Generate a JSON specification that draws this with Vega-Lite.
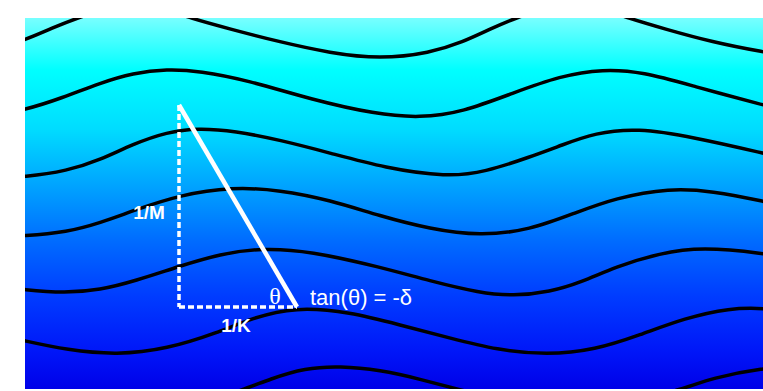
{
  "$schema": "https://vega.github.io/schema/vega-lite/v6.json",
  "width": 738,
  "height": 371,
  "autosize": {"type": "none"},
  "padding": {"left": 25, "top": 18, "right": 0, "bottom": 2},
  "background": "white",
  "config": {"view": {"stroke": null}},
  "datasets": {
    "bg": [{"x0": 25, "x1": 763, "y0": 18, "y1": 389}],
    "waves": [
      {"id": 1, "x": -10, "y": 52}, {"id": 1, "x": 25, "y": 40}, {"id": 1, "x": 52, "y": 28}, {"id": 1, "x": 80, "y": 17}, {"id": 1, "x": 108, "y": 8}, {"id": 1, "x": 140, "y": 5}, {"id": 1, "x": 165, "y": 9}, {"id": 1, "x": 190, "y": 18}, {"id": 1, "x": 230, "y": 29}, {"id": 1, "x": 280, "y": 42}, {"id": 1, "x": 330, "y": 53}, {"id": 1, "x": 380, "y": 59}, {"id": 1, "x": 430, "y": 53}, {"id": 1, "x": 463, "y": 42}, {"id": 1, "x": 490, "y": 29}, {"id": 1, "x": 518, "y": 17}, {"id": 1, "x": 546, "y": 8}, {"id": 1, "x": 578, "y": 5}, {"id": 1, "x": 603, "y": 9}, {"id": 1, "x": 628, "y": 18}, {"id": 1, "x": 665, "y": 29}, {"id": 1, "x": 712, "y": 42}, {"id": 1, "x": 763, "y": 52}, {"id": 1, "x": 800, "y": 58},
      {"id": 2, "x": -10, "y": 116}, {"id": 2, "x": 25, "y": 110}, {"id": 2, "x": 62, "y": 98}, {"id": 2, "x": 100, "y": 83}, {"id": 2, "x": 133, "y": 73}, {"id": 2, "x": 167, "y": 69}, {"id": 2, "x": 200, "y": 71}, {"id": 2, "x": 247, "y": 80}, {"id": 2, "x": 313, "y": 100}, {"id": 2, "x": 375, "y": 114}, {"id": 2, "x": 420, "y": 118}, {"id": 2, "x": 463, "y": 112}, {"id": 2, "x": 513, "y": 93}, {"id": 2, "x": 560, "y": 76}, {"id": 2, "x": 603, "y": 69}, {"id": 2, "x": 643, "y": 72}, {"id": 2, "x": 693, "y": 86}, {"id": 2, "x": 763, "y": 105}, {"id": 2, "x": 800, "y": 114},
      {"id": 3, "x": -10, "y": 178}, {"id": 3, "x": 25, "y": 177}, {"id": 3, "x": 67, "y": 171}, {"id": 3, "x": 100, "y": 160}, {"id": 3, "x": 133, "y": 144}, {"id": 3, "x": 167, "y": 132}, {"id": 3, "x": 198, "y": 128}, {"id": 3, "x": 235, "y": 131}, {"id": 3, "x": 280, "y": 140}, {"id": 3, "x": 330, "y": 153}, {"id": 3, "x": 385, "y": 168}, {"id": 3, "x": 447, "y": 177}, {"id": 3, "x": 485, "y": 172}, {"id": 3, "x": 530, "y": 157}, {"id": 3, "x": 562, "y": 145}, {"id": 3, "x": 595, "y": 133}, {"id": 3, "x": 637, "y": 128}, {"id": 3, "x": 693, "y": 137}, {"id": 3, "x": 763, "y": 153}, {"id": 3, "x": 800, "y": 162},
      {"id": 4, "x": -10, "y": 237}, {"id": 4, "x": 25, "y": 236}, {"id": 4, "x": 67, "y": 232}, {"id": 4, "x": 100, "y": 223}, {"id": 4, "x": 135, "y": 210}, {"id": 4, "x": 180, "y": 195}, {"id": 4, "x": 232, "y": 187}, {"id": 4, "x": 280, "y": 190}, {"id": 4, "x": 330, "y": 200}, {"id": 4, "x": 380, "y": 216}, {"id": 4, "x": 430, "y": 229}, {"id": 4, "x": 480, "y": 236}, {"id": 4, "x": 530, "y": 230}, {"id": 4, "x": 575, "y": 213}, {"id": 4, "x": 615, "y": 198}, {"id": 4, "x": 670, "y": 188}, {"id": 4, "x": 712, "y": 191}, {"id": 4, "x": 763, "y": 201}, {"id": 4, "x": 800, "y": 210},
      {"id": 5, "x": -10, "y": 285}, {"id": 5, "x": 25, "y": 290}, {"id": 5, "x": 65, "y": 293}, {"id": 5, "x": 100, "y": 290}, {"id": 5, "x": 135, "y": 281}, {"id": 5, "x": 180, "y": 266}, {"id": 5, "x": 220, "y": 254}, {"id": 5, "x": 262, "y": 248}, {"id": 5, "x": 310, "y": 251}, {"id": 5, "x": 380, "y": 267}, {"id": 5, "x": 430, "y": 281}, {"id": 5, "x": 480, "y": 293}, {"id": 5, "x": 513, "y": 296}, {"id": 5, "x": 550, "y": 292}, {"id": 5, "x": 582, "y": 282}, {"id": 5, "x": 615, "y": 267}, {"id": 5, "x": 660, "y": 253}, {"id": 5, "x": 702, "y": 247}, {"id": 5, "x": 763, "y": 253}, {"id": 5, "x": 800, "y": 260},
      {"id": 6, "x": -10, "y": 333}, {"id": 6, "x": 25, "y": 341}, {"id": 6, "x": 67, "y": 350}, {"id": 6, "x": 117, "y": 355}, {"id": 6, "x": 167, "y": 349}, {"id": 6, "x": 217, "y": 333}, {"id": 6, "x": 252, "y": 318}, {"id": 6, "x": 295, "y": 307}, {"id": 6, "x": 350, "y": 312}, {"id": 6, "x": 400, "y": 325}, {"id": 6, "x": 450, "y": 338}, {"id": 6, "x": 497, "y": 350}, {"id": 6, "x": 547, "y": 355}, {"id": 6, "x": 595, "y": 350}, {"id": 6, "x": 640, "y": 335}, {"id": 6, "x": 685, "y": 318}, {"id": 6, "x": 730, "y": 308}, {"id": 6, "x": 763, "y": 308}, {"id": 6, "x": 800, "y": 312},
      {"id": 7, "x": -10, "y": 385}, {"id": 7, "x": 25, "y": 394}, {"id": 7, "x": 80, "y": 405}, {"id": 7, "x": 140, "y": 410}, {"id": 7, "x": 200, "y": 403}, {"id": 7, "x": 243, "y": 390}, {"id": 7, "x": 270, "y": 379}, {"id": 7, "x": 305, "y": 368}, {"id": 7, "x": 340, "y": 366}, {"id": 7, "x": 380, "y": 370}, {"id": 7, "x": 420, "y": 379}, {"id": 7, "x": 460, "y": 390}, {"id": 7, "x": 510, "y": 402}, {"id": 7, "x": 570, "y": 410}, {"id": 7, "x": 630, "y": 403}, {"id": 7, "x": 683, "y": 389}, {"id": 7, "x": 712, "y": 378}, {"id": 7, "x": 763, "y": 368}, {"id": 7, "x": 800, "y": 366}
    ],
    "dashed": [
      {"x": 179, "y": 105, "x2": 179, "y2": 307},
      {"x": 179, "y": 307, "x2": 297, "y2": 307}
    ],
    "hyp": [{"x": 179, "y": 105, "x2": 297, "y2": 307}],
    "boldlabels": [
      {"label": "1/M", "x": 149, "y": 213},
      {"label": "1/K", "x": 236, "y": 326}
    ],
    "theta": [{"label": "θ", "x": 275, "y": 297}],
    "tan": [{"label": "tan(θ) = -δ", "x": 310, "y": 298}]
  },
  "layer": [
    {
      "data": {"name": "bg"},
      "mark": {
        "type": "rect",
        "fill": {
          "gradient": "linear", "x1": 0, "y1": 0, "x2": 0, "y2": 1,
          "stops": [
            {"offset": 0, "color": "#78ffff"},
            {"offset": 0.14, "color": "#00ffff"},
            {"offset": 0.3, "color": "#00dcff"},
            {"offset": 0.45, "color": "#00a4ff"},
            {"offset": 0.6, "color": "#006cff"},
            {"offset": 0.75, "color": "#003cff"},
            {"offset": 0.9, "color": "#0016f8"},
            {"offset": 1, "color": "#0000e8"}
          ]
        }
      },
      "encoding": {
        "x": {"field": "x0", "type": "quantitative", "scale": {"domain": [25, 763], "nice": false, "zero": false}, "axis": null},
        "x2": {"field": "x1"},
        "y": {"field": "y0", "type": "quantitative", "scale": {"domain": [18, 389], "nice": false, "zero": false, "reverse": true}, "axis": null},
        "y2": {"field": "y1"}
      }
    },
    {
      "data": {"name": "waves"},
      "mark": {"type": "line", "color": "black", "strokeWidth": 3.5, "interpolate": "basis", "clip": true},
      "encoding": {
        "x": {"field": "x", "type": "quantitative", "axis": null},
        "y": {"field": "y", "type": "quantitative", "axis": null},
        "detail": {"field": "id", "type": "nominal"},
        "order": {"field": "x", "type": "quantitative"}
      }
    },
    {
      "data": {"name": "dashed"},
      "mark": {"type": "rule", "color": "white", "strokeWidth": 3.5, "strokeDash": [6, 3]},
      "encoding": {
        "x": {"field": "x", "type": "quantitative", "axis": null},
        "y": {"field": "y", "type": "quantitative", "axis": null},
        "x2": {"field": "x2"},
        "y2": {"field": "y2"}
      }
    },
    {
      "data": {"name": "hyp"},
      "mark": {"type": "rule", "color": "white", "strokeWidth": 4.5},
      "encoding": {
        "x": {"field": "x", "type": "quantitative", "axis": null},
        "y": {"field": "y", "type": "quantitative", "axis": null},
        "x2": {"field": "x2"},
        "y2": {"field": "y2"}
      }
    },
    {
      "data": {"name": "boldlabels"},
      "mark": {"type": "text", "color": "white", "font": "Liberation Sans", "fontWeight": "bold", "fontSize": 19, "align": "center", "baseline": "middle"},
      "encoding": {
        "x": {"field": "x", "type": "quantitative", "axis": null},
        "y": {"field": "y", "type": "quantitative", "axis": null},
        "text": {"field": "label"}
      }
    },
    {
      "data": {"name": "theta"},
      "mark": {"type": "text", "color": "white", "font": "Liberation Serif", "fontSize": 24, "align": "center", "baseline": "middle"},
      "encoding": {
        "x": {"field": "x", "type": "quantitative", "axis": null},
        "y": {"field": "y", "type": "quantitative", "axis": null},
        "text": {"field": "label"}
      }
    },
    {
      "data": {"name": "tan"},
      "mark": {"type": "text", "color": "white", "font": "Liberation Sans", "fontSize": 22, "align": "left", "baseline": "middle"},
      "encoding": {
        "x": {"field": "x", "type": "quantitative", "axis": null},
        "y": {"field": "y", "type": "quantitative", "axis": null},
        "text": {"field": "label"}
      }
    }
  ]
}
